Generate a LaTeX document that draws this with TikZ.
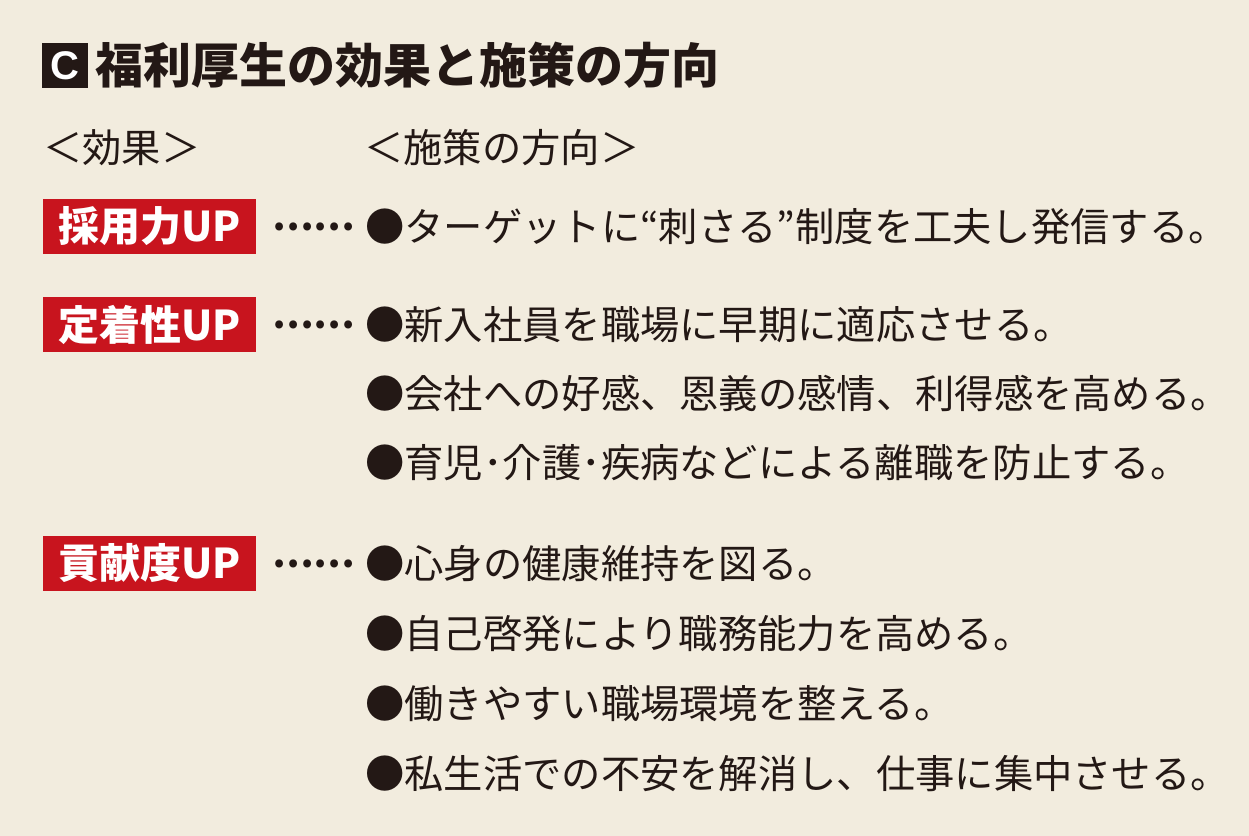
\documentclass[tikz,border=0pt]{standalone}
\usepackage{fontspec}
\newfontfamily\cjk{Noto Sans CJK JP}
\newfontfamily\latn{Liberation Sans}
\definecolor{bgc}{HTML}{F2ECDE}
\definecolor{redc}{HTML}{C8141E}
\definecolor{inkc}{HTML}{231815}
\tikzset{
  txt/.style={anchor=base west, inner sep=0pt, text=inkc, font=\cjk\fontsize{39.3bp}{39.3bp}\selectfont},
  dotsx/.style={anchor=base west, inner sep=0pt, text=inkc, font=\cjk\bfseries\fontsize{37bp}{37bp}\selectfont},
  head/.style={anchor=base west, inner sep=0pt, text=inkc, font=\cjk\bfseries\fontsize{48bp}{48bp}\selectfont},
  lbox/.style={fill=redc, minimum width=213bp, minimum height=55bp, inner sep=0pt, text=white, font=\cjk\bfseries\fontsize{41bp}{41bp}\selectfont},
  cbox/.style={fill=inkc, minimum width=46bp, minimum height=45bp, inner sep=0pt, text=white, font=\latn\bfseries\fontsize{40bp}{40bp}\selectfont},
}
\begin{document}
\begin{tikzpicture}[x=1bp,y=-1bp]
\fill[bgc] (0,0) rectangle (1249,836);
\useasboundingbox (0,0) rectangle (1249,836);
% title
\node[cbox] (cb) at (65,65.5) {C};
\node[head] (title) at (95,83) {福利厚生の効果と施策の方向};
% column heads
\node[txt] (h1) at (43,162) {＜効果＞};
\node[txt] (h2) at (364,162) {＜施策の方向＞};
% labels
\node[lbox] (l1) at (149.5,226.5) {採用力UP};
\node[lbox] (l2) at (149.5,324.5) {定着性UP};
\node[lbox] (l3) at (149.5,563) {貢献度UP};
% dots
\node[dotsx] (d1) at (272,241) {\raisebox{11bp}{……}};
\node[dotsx] (d2) at (272,339) {\raisebox{11bp}{……}};
\node[dotsx] (d3) at (272,578) {\raisebox{11bp}{……}};
% items
\node[txt] (a1) at (365,241) {●ターゲットに“刺さる”制度を工夫し発信する。};
\node[txt] (b1) at (365,339) {●新入社員を職場に早期に適応させる。};
\node[txt] (b2) at (365,408) {●会社への好感、恩義の感情、利得感を高める。};
\node[txt] (b3) at (365,477) {●育児･介護･疾病などによる離職を防止する。};
\node[txt] (c1) at (365,578) {●心身の健康維持を図る。};
\node[txt] (c2) at (365,648) {●自己啓発により職務能力を高める。};
\node[txt] (c3) at (365,718) {●働きやすい職場環境を整える。};
\node[txt] (c4) at (365,788) {●私生活での不安を解消し、仕事に集中させる。};
\end{tikzpicture}
\end{document}
